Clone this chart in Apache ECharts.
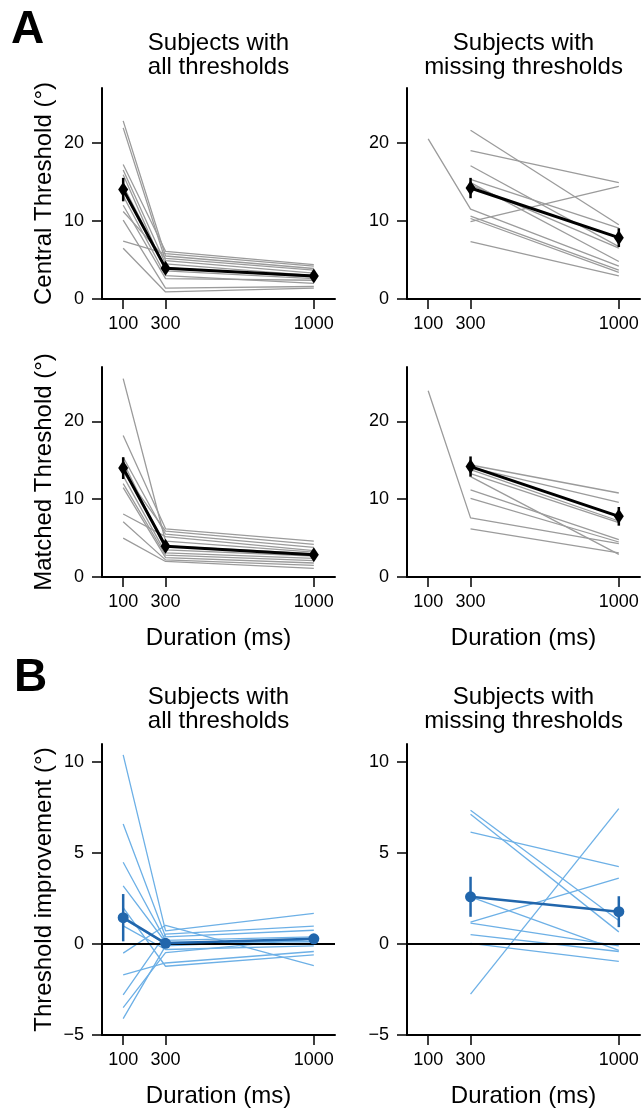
<!DOCTYPE html>
<html>
<head>
<meta charset="utf-8">
<script src="https://cdn.jsdelivr.net/npm/echarts@6/dist/echarts.min.js"></script>
<style>
html, body { margin: 0; padding: 0; background: #fff; }
#chart { width: 642px; height: 1109px; }
</style>
</head>
<body>
<div id="chart"></div>
<script>
// durations on the x axis (ms)
const durations = [100, 300, 1000];

// A, central threshold, subjects with all thresholds
const centralAll100 = [22.8, 21.9, 17.2, 16.5, 15.9, 14.5, 13.2, 12.0, 11.2, 10.1, 7.4, 6.5];
const centralAll300 = [5.5, 4.9, 6.1, 4.5, 3.6, 4.0, 3.0, 2.6, 5.2, 1.4, 5.8, 0.9];
const centralAll1000 = [3.9, 3.3, 4.4, 3.0, 2.6, 2.8, 2.0, 2.4, 3.7, 1.6, 4.2, 1.4];
const centralAllMean = [14.0, 3.95, 2.95];
const centralAllSem = [1.5, 0.5, 0.4];

// A, central threshold, subjects with missing thresholds
const centralMiss100 = [null, null, null, null, null, null, 20.5, null, null, null, null];
const centralMiss300 = [21.6, 19.0, 17.05, 15.3, 14.9, 14.6, 11.5, 10.6, 10.3, 9.9, 7.35];
const centralMiss1000 = [9.5, 14.9, 6.7, 9.06, 4.8, 6.5, 4.2, 3.7, 3.4, 14.4, 2.95];
const centralMissMean = [null, 14.2, 7.85];
const centralMissSem = [null, 1.3, 1.2];

// A, matched threshold, subjects with all thresholds
const matchedAll100 = [25.5, 18.2, 15.4, 14.8, 14.2, 13.5, 13.0, 12.0, 11.5, 8.1, 7.1, 5.0];
const matchedAll300 = [4.6, 6.2, 5.5, 3.5, 4.0, 5.9, 3.1, 2.8, 2.5, 5.2, 2.2, 2.0];
const matchedAll1000 = [3.2, 4.6, 3.8, 2.7, 3.0, 4.2, 2.4, 2.1, 1.8, 3.4, 1.5, 1.1];
const matchedAllMean = [14.0, 3.95, 2.85];
const matchedAllSem = [1.4, 0.5, 0.4];

// A, matched threshold, subjects with missing thresholds
const matchedMiss100 = [null, null, null, null, null, null, null, 23.95, null];
const matchedMiss300 = [14.4, 14.1, 13.8, 13.3, 12.9, 11.2, 10.1, 7.6, 6.2];
const matchedMiss1000 = [10.8, 9.6, 7.2, 7.0, 2.9, 4.8, 4.5, 4.3, 3.1];
const matchedMissMean = [null, 14.2, 7.8];
const matchedMissSem = [null, 1.3, 1.2];

// B, threshold improvement, subjects with all thresholds
const improveAll100 = [10.4, 6.6, 4.5, 3.2, 2.0, 1.4, 1.0, -0.5, -1.7, -2.8, -3.5, -4.1];
const improveAll300 = [0.72, 0.4, 0.2, 0.1, -1.22, 0.0, -0.3, 1.03, -1.04, 0.55, -0.47, -0.1];
const improveAll1000 = [1.69, 0.76, 0.4, 0.13, -0.59, 0.05, -0.1, -1.19, -0.41, 0.99, 0.3, 0.25];
const improveAllMean = [1.45, 0.04, 0.29];
const improveAllSem = [1.3, 0.2, 0.25];

// B, threshold improvement, subjects with missing thresholds
const improveMiss100 = [null, null, null, null, null, null, null, null, null];
const improveMiss300 = [7.36, 7.14, 6.15, 2.6, 1.2, 1.15, 0.52, 0.04, -2.75];
const improveMiss1000 = [1.3, 0.67, 4.26, -0.35, 3.63, -0.1, -0.41, -0.95, 7.45];
const improveMissMean = [null, 2.6, 1.78];
const improveMissSem = [null, 1.1, 0.85];

const FONT = '"Liberation Sans", Arial, sans-serif';
const GRAY = '#9b9b9b';
const LIGHTBLUE = '#6db0e6';
const BLUE = '#2166ac';

const panels = [
  { left: 102, top: 88, height: 211, yMin: 0, yMax: 27, yTicks: [0, 10, 20], yName: 'Central Threshold (°)', xName: '',
    subj: [centralAll100, centralAll300, centralAll1000], mean: centralAllMean, sem: centralAllSem, kind: 'A' },
  { left: 407, top: 88, height: 211, yMin: 0, yMax: 27, yTicks: [0, 10, 20], yName: '', xName: '',
    subj: [centralMiss100, centralMiss300, centralMiss1000], mean: centralMissMean, sem: centralMissSem, kind: 'A' },
  { left: 102, top: 367, height: 210, yMin: 0, yMax: 27, yTicks: [0, 10, 20], yName: 'Matched Threshold (°)', xName: 'Duration (ms)',
    subj: [matchedAll100, matchedAll300, matchedAll1000], mean: matchedAllMean, sem: matchedAllSem, kind: 'A' },
  { left: 407, top: 367, height: 210, yMin: 0, yMax: 27, yTicks: [0, 10, 20], yName: '', xName: 'Duration (ms)',
    subj: [matchedMiss100, matchedMiss300, matchedMiss1000], mean: matchedMissMean, sem: matchedMissSem, kind: 'A' },
  { left: 102, top: 744, height: 296, yMin: -5, yMax: 11, yTicks: [-5, 0, 5, 10], yName: 'Threshold improvement (°)', xName: 'Duration (ms)',
    subj: [improveAll100, improveAll300, improveAll1000], mean: improveAllMean, sem: improveAllSem, kind: 'B' },
  { left: 407, top: 744, height: 296, yMin: -5, yMax: 11, yTicks: [-5, 0, 5, 10], yName: '', xName: 'Duration (ms)',
    subj: [improveMiss100, improveMiss300, improveMiss1000], mean: improveMissMean, sem: improveMissSem, kind: 'B' }
];

const grids = [], xAxes = [], yAxes = [], series = [];

panels.forEach(function (p, i) {
  grids.push({ left: p.left, top: p.top, width: 233, height: p.height });
  xAxes.push({
    type: 'value', gridIndex: i, min: 0, max: 1100,
    axisLine: { show: true, onZero: false, lineStyle: { color: '#000', width: 2 } },
    axisTick: { show: true, customValues: durations, length: 10, lineStyle: { color: '#000', width: 1.5 } },
    axisLabel: { customValues: durations, fontSize: 18, color: '#000', fontFamily: FONT, margin: 16,
      formatter: function (v) { return String(v); } },
    splitLine: { show: false },
    name: p.xName, nameLocation: 'middle', nameGap: 49,
    nameTextStyle: { fontSize: 24, color: '#000', fontFamily: FONT }
  });
  yAxes.push({
    type: 'value', gridIndex: i, min: p.yMin, max: p.yMax,
    axisLine: { show: true, onZero: false, lineStyle: { color: '#000', width: 2 } },
    axisTick: { show: true, customValues: p.yTicks, length: 10, lineStyle: { color: '#000', width: 1.5 } },
    axisLabel: { customValues: p.yTicks, fontSize: 18, color: '#000', fontFamily: FONT, margin: 18,
      formatter: function (v) { return String(v).replace('-', '\u2212'); } },
    splitLine: { show: false },
    name: p.yName, nameLocation: 'middle', nameGap: 46,
    nameTextStyle: { fontSize: 24, color: '#000', fontFamily: FONT }
  });

  const thin = p.kind === 'A' ? GRAY : LIGHTBLUE;
  const meanColor = p.kind === 'A' ? '#000' : BLUE;

  // individual subjects
  p.subj[1].forEach(function (_, s) {
    const data = durations.map(function (d, k) { return [d, p.subj[k][s]]; })
      .filter(function (pt) { return pt[1] != null; });
    series.push({
      type: 'line', xAxisIndex: i, yAxisIndex: i, data: data,
      symbol: 'none', silent: true, z: 2,
      lineStyle: { color: thin, width: 1.3 }
    });
  });

  // zero reference line in B
  if (p.kind === 'B') {
    series.push({
      type: 'line', xAxisIndex: i, yAxisIndex: i, data: [], z: 3, silent: true,
      markLine: { silent: true, symbol: ['none', 'none'], label: { show: false },
        lineStyle: { color: '#000', width: 2, type: 'solid' }, data: [{ yAxis: 0 }] }
    });
  }

  // error bars
  const errData = [];
  durations.forEach(function (d, k) {
    if (p.mean[k] != null) errData.push([d, p.mean[k] - p.sem[k], p.mean[k] + p.sem[k]]);
  });
  series.push({
    type: 'custom', xAxisIndex: i, yAxisIndex: i, data: errData, z: 5, silent: true,
    encode: { x: 0, y: [1, 2] },
    renderItem: function (params, api) {
      const a = api.coord([api.value(0), api.value(1)]);
      const b = api.coord([api.value(0), api.value(2)]);
      return { type: 'line', shape: { x1: a[0], y1: a[1], x2: b[0], y2: b[1] },
        style: { stroke: meanColor, lineWidth: 2.5 } };
    }
  });

  // group mean
  const meanData = durations.map(function (d, k) { return [d, p.mean[k]]; })
    .filter(function (pt) { return pt[1] != null; });
  series.push({
    type: 'line', xAxisIndex: i, yAxisIndex: i, data: meanData, z: 6, silent: true,
    symbol: p.kind === 'A' ? 'diamond' : 'circle',
    symbolSize: p.kind === 'A' ? [10, 15] : 11,
    showAllSymbol: true,
    itemStyle: { color: meanColor },
    lineStyle: { color: meanColor, width: p.kind === 'A' ? 3 : 2.5 }
  });
});

function txt(x, y, text, size, weight) {
  return { type: 'text', x: x, y: y, silent: true,
    style: { text: text, fill: '#000', align: weight ? 'left' : 'center', verticalAlign: 'top',
      fontSize: size, fontWeight: weight || 'normal', fontFamily: FONT, lineHeight: size } };
}

const chart = echarts.init(document.getElementById('chart'), null, { renderer: 'canvas' });
chart.setOption({
  animation: false,
  backgroundColor: '#fff',
  grid: grids,
  xAxis: xAxes,
  yAxis: yAxes,
  series: series,
  graphic: [
    txt(11, 7, 'A', 46, 'bold'),
    txt(14, 655, 'B', 46, 'bold'),
    txt(218.5, 31, 'Subjects with\nall thresholds', 24),
    txt(523.5, 31, 'Subjects with\nmissing thresholds', 24),
    txt(218.5, 685, 'Subjects with\nall thresholds', 24),
    txt(523.5, 685, 'Subjects with\nmissing thresholds', 24)
  ]
});
</script>
</body>
</html>
